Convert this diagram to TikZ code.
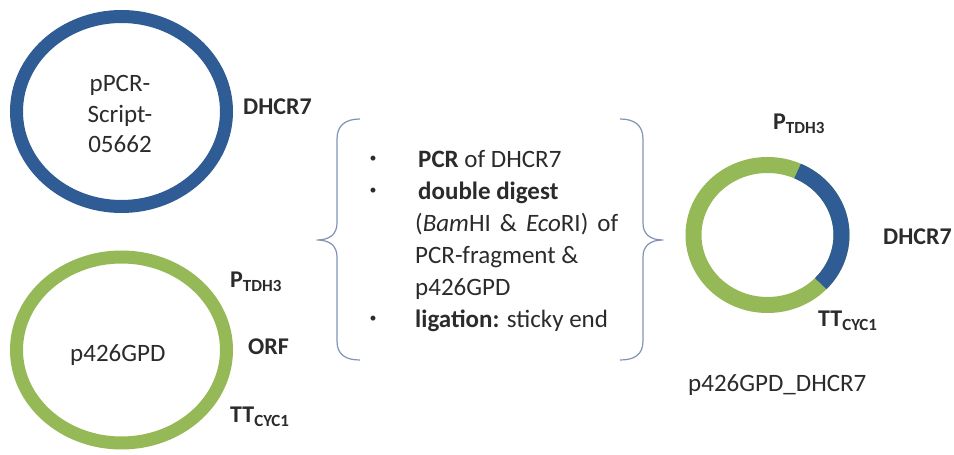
\documentclass[tikz,border=0pt]{standalone}
\usepackage{fontspec}
\setmainfont{Carlito}
\definecolor{ringblue}{HTML}{2F5C94}
\definecolor{ringgreen}{HTML}{94B956}
\definecolor{txt}{HTML}{2B2B2B}
\definecolor{bracecol}{HTML}{8093B5}
\newcommand{\lsub}[1]{\raisebox{-4pt}{\fontsize{17}{17}\selectfont #1}}
\begin{document}
\begin{tikzpicture}[x=1pt,y=1pt,
  lab/.style={inner sep=0pt, text=txt, font=\fontsize{25}{30}\selectfont},
  blab/.style={inner sep=0pt, text=txt, font=\fontsize{24}{30}\selectfont\bfseries},
  bul/.style={inner sep=0pt, text=txt, font=\fontsize{14}{14}\selectfont},
  ring/.style={line width=13pt},
  bigring/.style={line width=16pt},
  bracestyle/.style={draw=bracecol, line width=1.2pt, line join=round}]
\useasboundingbox (0,0) rectangle (954,455);

% left top plasmid
\coordinate (c1) at (121.5,343.5);
\draw[ring, ringblue] (c1) ellipse [x radius=105, y radius=95];
\node[lab, anchor=base] (t1) at (120,363) {pPCR-};
\node[lab, anchor=base] (t2) at (120,332) {Script-};
\node[lab, anchor=base] (t3) at (120,302) {05662};
\node[blab, anchor=base west] (dh1) at (243,340) {DHCR7};

% left bottom plasmid
\coordinate (c2) at (121.5,105);
\draw[ring, ringgreen] (c2) ellipse [x radius=105, y radius=93];
\node[lab, anchor=base west] (p426) at (70,93) {p426GPD};
\node[blab, anchor=base west] (pt1) at (230,167) {P\lsub{TDH3}};
\node[blab, anchor=base west] (orf) at (248,100) {ORF};
\node[blab, anchor=base west] (tt1) at (230,32) {TT\lsub{CYC1}};

% braces
\draw[bracestyle] (360,336) .. controls (346,336) and (337,330) .. (337,316)
  -- (337,232) .. controls (337,221) and (330,215) .. (317,215)
  .. controls (330,215) and (337,209) .. (337,198)
  -- (337,114) .. controls (337,100) and (346,95) .. (360,95);
\draw[bracestyle] (620,336) .. controls (634,336) and (643,330) .. (643,316)
  -- (643,232) .. controls (643,221) and (650,215) .. (663,215)
  .. controls (650,215) and (643,209) .. (643,198)
  -- (643,114) .. controls (643,100) and (634,95) .. (620,95);

% bullet list
\node[bul, anchor=base] (b1) at (373,292) {\textbullet};
\node[bul, anchor=base] (b2) at (373,260) {\textbullet};
\node[bul, anchor=base] (b3) at (373,132) {\textbullet};
\node[lab, anchor=base west] (l1) at (418,287) {\textbf{PCR} of DHCR7};
\node[lab, anchor=base west] (l2) at (418,255) {\textbf{double digest}};
\node[lab, anchor=base west] (l3) at (415,223) {\makebox[203pt][s]{(\textit{Bam}HI \& \textit{Eco}RI) of}};
\node[lab, anchor=base west] (l4) at (415,191) {PCR-fragment \&};
\node[lab, anchor=base west] (l5) at (415,159) {p426GPD};
\node[lab, anchor=base west] (l6) at (415,127) {\textbf{ligation:} sticky end};

% right plasmid
\coordinate (c3) at (767.5,220);
\draw[bigring, ringgreen] (c3) ellipse [x radius=74, y radius=70];
\draw[bigring, ringblue] ([shift={(-44:74 and 70)}]c3) arc[start angle=-44, end angle=66, x radius=74, y radius=70];
\node[blab, anchor=base west] (pt2) at (773,325) {P\lsub{TDH3}};
\node[blab, anchor=base west] (dh2) at (883,210) {DHCR7};
\node[blab, anchor=base west] (tt2) at (818,128) {TT\lsub{CYC1}};
\node[lab, anchor=base west] (fin) at (688,63) {p426GPD\_DHCR7};
\end{tikzpicture}
\end{document}
